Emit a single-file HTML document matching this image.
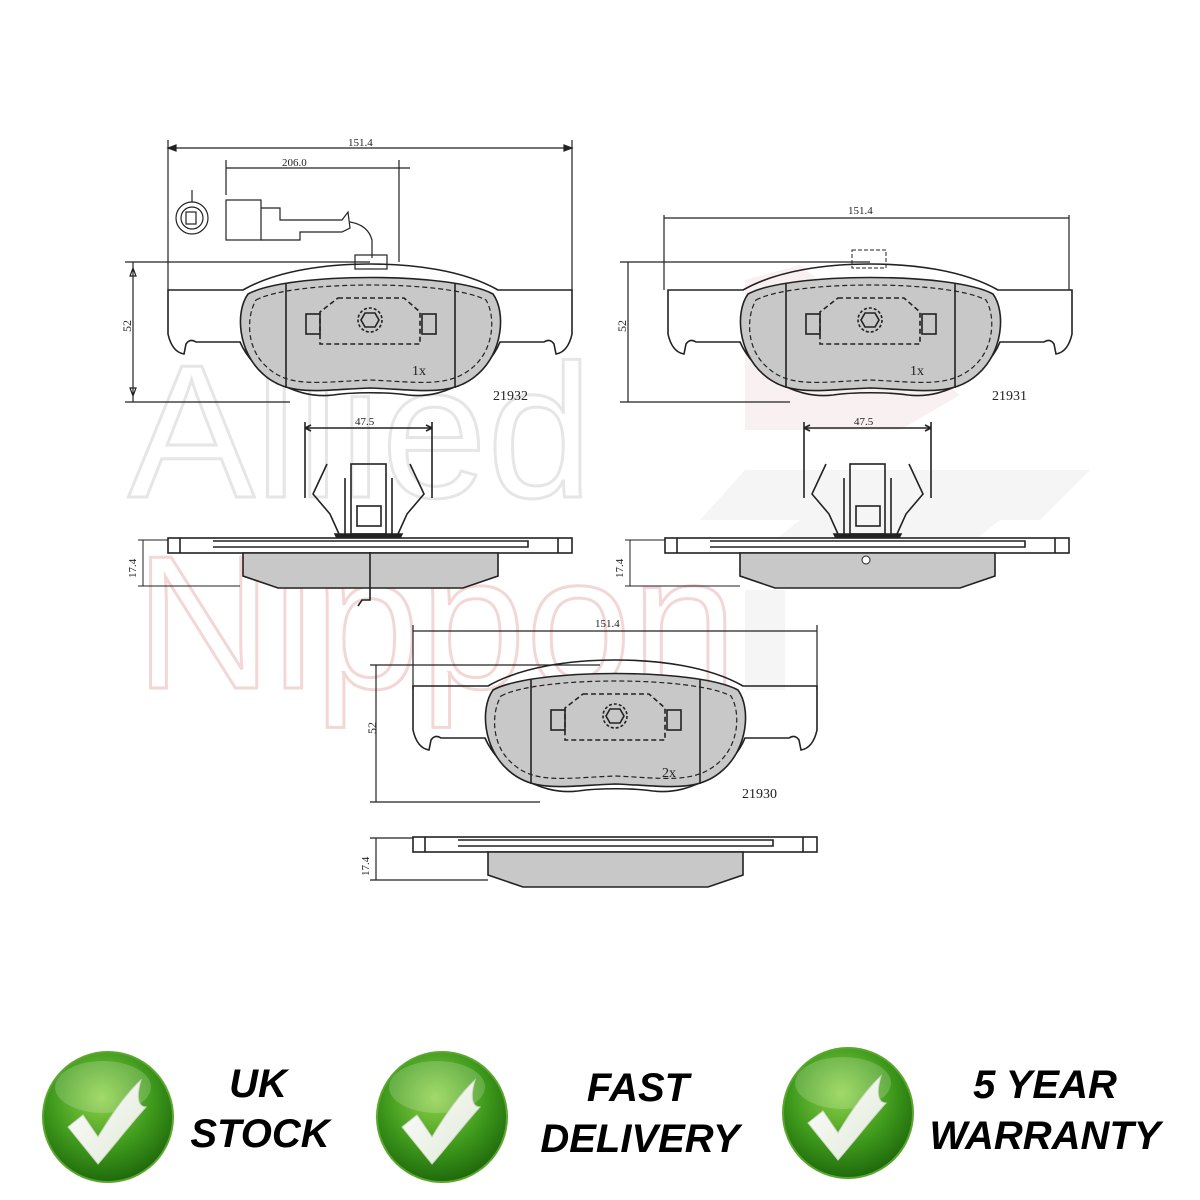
<!DOCTYPE html>
<html><head><meta charset="utf-8"><style>
html,body{margin:0;padding:0;background:#fff}
svg{display:block}
.t{font-family:"Liberation Serif",serif;fill:#222}
.b{font-family:"Liberation Sans",sans-serif;font-weight:bold;font-style:italic;fill:#000}
</style></head><body>
<svg width="1200" height="1200" viewBox="0 0 1200 1200" xmlns="http://www.w3.org/2000/svg">
<defs>
<radialGradient id="g" cx="45%" cy="35%" r="65%">
<stop offset="0" stop-color="#8fd24a"/><stop offset="0.6" stop-color="#3f9a1c"/><stop offset="1" stop-color="#1f6a0c"/>
</radialGradient>
<linearGradient id="ck" x1="0" y1="0" x2="1" y2="1"><stop offset="0" stop-color="#fff"/><stop offset="1" stop-color="#dfe8d6"/></linearGradient>
<g id="pad" fill="none" stroke="#222" stroke-width="1.6">
<path d="M0,28 L75,28 C110,8 160,2 202,2 C245,2 295,8 330,28 L404,28 L404,72 Q400,90 388,92 L386,82 Q382,76 376,80 L332,80 C320,110 280,138 240,133 C220,130 185,130 165,133 C125,138 85,110 72,80 L28,80 Q22,76 18,82 L16,92 Q4,90 0,72 Z"/>
<path d="M80,32 C120,10 285,10 325,32 C338,50 335,90 310,112 C285,135 255,128 202,126 C150,128 120,135 95,112 C70,90 67,50 80,32 Z" fill="#c8c8c8"/>
<path d="M88,38 C125,18 280,18 318,38 C328,55 326,88 304,106 C280,126 250,120 202,118 C152,120 122,126 100,106 C78,88 78,55 88,38 Z" stroke-dasharray="5,3" stroke-width="1.2"/>
<line x1="118" y1="22" x2="118" y2="126"/><line x1="287" y1="22" x2="287" y2="126"/>
<path d="M170,36 L236,36 L252,50 L252,82 L152,82 L152,50 Z" stroke-dasharray="5,3"/>
<rect x="138" y="52" width="14" height="20"/><rect x="254" y="52" width="14" height="20"/>
<circle cx="202" cy="58" r="12" stroke-dasharray="3,2"/><path d="M197,51 L207,51 L211,58 L207,65 L197,65 L193,58 Z"/>
</g>
<g id="side" stroke="#222" stroke-width="1.6">
<rect x="0" y="0" width="404" height="15" fill="#fff"/>
<path d="M45,3 L360,3 L360,9 L45,9" fill="none"/>
<line x1="12" y1="0" x2="12" y2="15"/><line x1="390" y1="0" x2="390" y2="15"/>
<path d="M75,15 L75,38 L110,50 L295,50 L330,38 L330,15 Z" fill="#c8c8c8"/>
</g>
<g id="clip" fill="none" stroke="#222" stroke-width="1.6">
<path d="M0,0 L0,76 M127,0 L127,76"/>
<path d="M0,6 L127,6" /><path d="M0,6 l6,-3 M0,6 l6,3 M127,6 l-6,-3 M127,6 l-6,3"/>
<path d="M22,42 L8,72 L25,92 L34,112 M105,42 L119,72 L102,92 L93,112"/>
<rect x="46" y="42" width="35" height="70"/><rect x="52" y="84" width="24" height="20"/>
<path d="M40,56 L40,112 M87,56 L87,112"/>
<path d="M30,112 L97,112 L95,116 L32,116 Z" fill="#222"/>
</g>
<g id="chk">
<circle r="65" fill="url(#g)" stroke="#5aa62e" stroke-width="2"/>
<ellipse cx="-5" cy="-30" rx="48" ry="26" fill="#fff" opacity="0.18"/>
<path d="M-40,10 L-25,-2 L-10,20 C5,-5 20,-25 33,-37 C28,-20 30,-10 38,-10 C20,10 5,30 -10,47 Z" fill="url(#ck)" stroke="#cfd8c4" stroke-width="1"/>
</g>
</defs>

<!-- watermark -->
<text x="128" y="497" font-family="Liberation Sans,sans-serif" font-size="190" fill="none" stroke="#e6e6e6" stroke-width="3">Allied</text>
<text x="135" y="688" font-family="Liberation Sans,sans-serif" font-size="190" fill="none" stroke="#f3d6d6" stroke-width="3">Nippon</text>
<path d="M745,280 L800,265 L960,395 L900,430 L745,430 Z" fill="#f8eded" opacity="0.8"/>
<path d="M700,520 L745,470 L1090,470 L1040,520 Z M750,560 L800,520 L1000,520 L950,560 Z" fill="#f5f5f5"/>
<path d="M745,590 L785,590 L785,690 L745,690 Z" fill="#f5f5f5"/>

<!-- top left pad -->
<use href="#pad" x="168" y="262"/>
<g stroke="#222" stroke-width="1.2" fill="none">
<path d="M168,140 L168,290 M572,140 L572,290 M168,148 L572,148"/>
<path d="M226,160 L226,195 M399,160 L399,262 M226,168 L410,168"/>
<path d="M133,262 L133,402 M125,262 L370,262 M125,402 L290,402 M133,268 l-3,8 l6,0 z M133,396 l-3,-8 l6,0 z"/>
<path d="M168,148 l8,-3 l0,6 z M572,148 l-8,-3 l0,6 z" fill="#222"/>
<circle cx="192" cy="218" r="16"/><circle cx="192" cy="218" r="11"/><rect x="186" y="212" width="10" height="12"/><path d="M192,190 L192,202"/>
<rect x="226" y="200" width="35" height="40"/><path d="M261,208 L280,208 L280,220 L342,220 L348,212 L350,228 L342,232 L300,232 L300,240 L261,240"/>
<path d="M350,222 Q368,225 372,240 L372,258"/><rect x="355" y="255" width="32" height="14"/>
</g>
<text class="t" x="348" y="146" font-size="11">151.4</text>
<text class="t" x="282" y="166" font-size="11">206.0</text>
<text class="t" x="125" y="338" font-size="12" transform="rotate(-90 125 332)">52</text>
<text class="t" x="412" y="375" font-size="14">1x</text>
<text class="t" x="493" y="400" font-size="14">21932</text>
<use href="#clip" x="305" y="422"/>
<text class="t" x="355" y="425" font-size="11">47.5</text>
<use href="#side" x="168" y="538"/>
<path d="M370,552 L370,600 L362,600 L358,606" stroke="#222" stroke-width="1.6" fill="none"/>
<path d="M143,540 L143,586 M138,540 L168,540 M138,586 L240,586" stroke="#222" fill="none"/>
<text class="t" x="0" y="0" font-size="11" transform="translate(136,578) rotate(-90)">17.4</text>

<!-- top right pad -->
<use href="#pad" x="668" y="262"/>
<rect x="852" y="250" width="34" height="18" fill="none" stroke="#222" stroke-dasharray="4,2"/>
<g stroke="#222" stroke-width="1.2" fill="none">
<path d="M664,215 L664,290 M1069,215 L1069,290 M664,218 L1069,218"/>
<path d="M628,262 L628,402 M620,262 L870,262 M620,402 L790,402"/>
</g>
<text class="t" x="848" y="214" font-size="11">151.4</text>
<text class="t" x="620" y="338" font-size="12" transform="rotate(-90 620 332)">52</text>
<text class="t" x="910" y="375" font-size="14">1x</text>
<text class="t" x="992" y="400" font-size="14">21931</text>
<use href="#clip" x="804" y="422"/>
<text class="t" x="854" y="425" font-size="11">47.5</text>
<use href="#side" x="665" y="538"/>
<circle cx="866" cy="560" r="4" fill="#fff" stroke="#222"/>
<path d="M630,540 L630,586 M625,540 L665,540 M625,586 L740,586" stroke="#222" fill="none"/>
<text class="t" x="0" y="0" font-size="11" transform="translate(623,578) rotate(-90)">17.4</text>

<!-- bottom pad -->
<use href="#pad" x="413" y="658"/>
<g stroke="#222" stroke-width="1.2" fill="none">
<path d="M413,625 L413,690 M817,625 L817,690 M413,631 L817,631"/>
<path d="M376,665 L376,802 M370,665 L600,665 M370,802 L540,802"/>
<path d="M376,838 L376,880 M370,838 L413,838 M370,880 L488,880"/>
</g>
<text class="t" x="595" y="627" font-size="11">151.4</text>
<text class="t" x="370" y="740" font-size="12" transform="rotate(-90 370 734)">52</text>
<text class="t" x="662" y="777" font-size="14">2x</text>
<text class="t" x="742" y="798" font-size="14">21930</text>
<use href="#side" x="413" y="837"/>
<text class="t" x="0" y="0" font-size="11" transform="translate(369,876) rotate(-90)">17.4</text>

<!-- badges -->
<use href="#chk" x="108" y="1117"/>
<text class="b" x="258" y="1097" font-size="40" text-anchor="middle">UK</text>
<text class="b" x="260" y="1147" font-size="40" text-anchor="middle">STOCK</text>
<use href="#chk" x="442" y="1117"/>
<text class="b" x="638" y="1101" font-size="40" text-anchor="middle">FAST</text>
<text class="b" x="640" y="1152" font-size="40" text-anchor="middle">DELIVERY</text>
<use href="#chk" x="848" y="1113"/>
<text class="b" x="1045" y="1098" font-size="40" text-anchor="middle">5 YEAR</text>
<text class="b" x="1045" y="1149" font-size="40" text-anchor="middle">WARRANTY</text>
</svg>
</body></html>
